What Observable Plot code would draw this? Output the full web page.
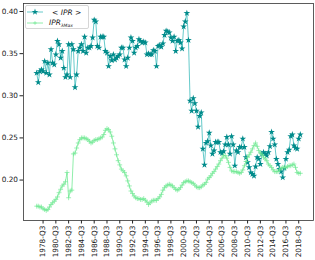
<!DOCTYPE html>
<html>
<head>
<meta charset="utf-8">
<script src="https://cdn.jsdelivr.net/npm/d3@7"></script>
<script src="https://cdn.jsdelivr.net/npm/@observablehq/plot@0.6"></script>
<style>
  html, body { margin: 0; padding: 0; background: white; }
  #wrap { position: relative; width: 315px; height: 260px; font-family: "DejaVu Sans", sans-serif; }
  #legend { position: absolute; left: 25px; top: 5px; width: 64px; height: 24px; box-sizing: border-box;
            border: 1px solid #d6d6d6; border-radius: 2px; background: rgba(255,255,255,0.85); font-size: 7.5px; color: #222; }
  .entry { position: absolute; left: 1px; height: 10px; display: flex; align-items: center; }
  .entry svg { display: block; }
  .lab { font-style: italic; margin-left: 9px; white-space: nowrap; }
  .lab sub { font-size: 4.5px; vertical-align: -1.5px; }
</style>
</head>
<body>
<div id="wrap"></div>
<script>
// Series 1: <IPR>, quarterly from 1977-Q3 (index 0) to 2018-Q4 (index 165)
const meanIPR = [
  0.327,0.316,0.329,0.331,0.329,0.341,0.327,0.339,0.325,0.355,
  0.339,0.337,0.349,0.365,0.361,0.345,0.353,0.333,0.322,0.325,
  0.361,0.322,0.361,0.355,0.310,0.325,0.353,0.357,0.361,0.353,
  0.370,0.351,0.357,0.357,0.359,0.369,0.390,0.388,0.359,0.357,
  0.370,0.370,0.370,0.353,0.351,0.335,0.347,0.342,0.349,0.343,
  0.345,0.347,0.349,0.357,0.357,0.343,0.335,0.345,0.357,0.369,
  0.365,0.351,0.357,0.359,0.367,0.365,0.363,0.364,0.363,0.349,
  0.350,0.349,0.349,0.354,0.353,0.335,0.359,0.360,0.358,0.362,
  0.372,0.377,0.376,0.375,0.369,0.365,0.370,0.353,0.365,0.366,
  0.363,0.356,0.382,0.388,0.398,0.366,0.294,0.282,0.297,0.291,
  0.282,0.263,0.276,0.280,0.237,0.218,0.244,0.246,0.256,0.241,
  0.231,0.235,0.245,0.245,0.245,0.233,0.232,0.234,0.242,0.251,
  0.242,0.231,0.252,0.242,0.217,0.235,0.233,0.239,0.239,0.249,
  0.239,0.227,0.221,0.215,0.209,0.207,0.205,0.216,0.227,0.225,
  0.219,0.231,0.233,0.231,0.229,0.233,0.240,0.257,0.249,0.242,
  0.225,0.219,0.213,0.210,0.203,0.214,0.225,0.233,0.236,0.252,
  0.254,0.241,0.238,0.237,0.249,0.254
];
// Series 2: IPR_lambdaMax, same quarters
const iprLambdaMax = [
  0.169,0.169,0.168,0.168,0.166,0.165,0.164,0.165,0.168,0.171,
  0.173,0.175,0.177,0.180,0.185,0.189,0.193,0.195,0.198,0.209,
  0.179,0.187,0.188,0.231,0.232,0.238,0.244,0.248,0.250,0.250,
  0.250,0.249,0.248,0.246,0.244,0.245,0.247,0.248,0.248,0.249,
  0.250,0.251,0.254,0.259,0.261,0.260,0.257,0.252,0.244,0.237,
  0.230,0.223,0.218,0.213,0.211,0.209,0.205,0.199,0.193,0.187,
  0.184,0.181,0.179,0.178,0.178,0.177,0.177,0.178,0.176,0.174,
  0.171,0.173,0.175,0.176,0.176,0.176,0.178,0.180,0.183,0.188,
  0.191,0.193,0.194,0.195,0.194,0.193,0.191,0.189,0.188,0.189,
  0.191,0.194,0.197,0.198,0.199,0.199,0.198,0.197,0.196,0.194,
  0.192,0.191,0.191,0.192,0.194,0.195,0.197,0.201,0.203,0.205,
  0.208,0.210,0.213,0.216,0.219,0.223,0.226,0.229,0.229,0.226,
  0.221,0.215,0.211,0.210,0.210,0.210,0.209,0.208,0.209,0.212,
  0.217,0.222,0.227,0.230,0.233,0.237,0.241,0.244,0.240,0.235,
  0.232,0.230,0.227,0.225,0.223,0.219,0.217,0.215,0.212,0.210,
  0.210,0.210,0.212,0.214,0.215,0.215,0.215,0.216,0.217,0.217,
  0.218,0.219,0.215,0.209,0.208,0.208
];
// Tick labels (every 8 quarters) and the quarter index they sit on
const tickIndex = [4,12,20,28,36,44,52,60,68,76,84,92,100,108,116,124,132,140,148,156,164];
const tickLabels = ["1978-Q3","1980-Q3","1982-Q3","1984-Q3","1986-Q3","1988-Q3","1990-Q3",
  "1992-Q3","1994-Q3","1996-Q3","1998-Q3","2000-Q3","2002-Q3","2004-Q3","2006-Q3",
  "2008-Q3","2010-Q3","2012-Q3","2014-Q3","2016-Q3","2018-Q3"];
const yTicks = [0.20, 0.25, 0.30, 0.35, 0.40];
const seriesNames = ["< IPR >", "IPR"];

const tealColor = "#008b8b";
const tealLine = "#3fbcbc";
const greenColor = "#74ea96";

const teal = meanIPR.map((v, i) => ({i, v}));
const green = iprLambdaMax.map((v, i) => ({i, v}));
const labelOf = new Map(tickIndex.map((t, k) => [t, tickLabels[k]]));

const chart = Plot.plot({
  width: 315,
  height: 260,
  marginLeft: 23,
  marginRight: 2,
  marginTop: 3,
  marginBottom: 40,
  style: {fontFamily: "DejaVu Sans", fontSize: "7.3px", background: "white", color: "#222"},
  x: {domain: [-8.25, 173.25], ticks: tickIndex, tickFormat: d => labelOf.get(d), tickRotate: -90,
      label: null, tickSize: 3.5, tickPadding: 1.5},
  y: {domain: [0.152, 0.4095], ticks: yTicks, tickFormat: d3.format(".2f"), label: null,
      tickSize: 3.5, tickPadding: 2},
  marks: [
    Plot.line(teal, {x: "i", y: "v", stroke: tealLine, strokeWidth: 0.8}),
    Plot.dot(teal, {x: "i", y: "v", symbol: "star", r: 2.1, fill: tealColor, stroke: "none"}),
    Plot.line(green, {x: "i", y: "v", stroke: greenColor, strokeWidth: 0.8}),
    Plot.dot(green, {x: "i", y: "v", symbol: "plus", r: 1.7, stroke: greenColor, strokeWidth: 0.7}),
    Plot.frame({stroke: "#333", strokeWidth: 0.8})
  ]
});
const wrap = document.getElementById("wrap");
wrap.appendChild(chart);

// legend overlay
const legend = document.createElement("div");
legend.id = "legend";
function sample(kind) {
  const s = kind === "star"
    ? `<line x1="0" y1="4" x2="16" y2="4" stroke="${tealLine}" stroke-width="0.8"/>` +
      `<path transform="translate(8,4)" d="${d3.symbol(d3.symbolStar, Math.PI * 2.1 * 2.1)()}" fill="${tealColor}"/>`
    : `<line x1="0" y1="4" x2="16" y2="4" stroke="${greenColor}" stroke-width="0.8"/>` +
      `<path d="M8,2.2V5.8M6.2,4H9.8" stroke="${greenColor}" stroke-width="0.7"/>`;
  return `<svg width="16" height="8">${s}</svg>`;
}
legend.innerHTML =
  `<div class="entry" style="top:1px">${sample("star")}<span class="lab">${seriesNames[0]}</span></div>` +
  `<div class="entry" style="top:12px">${sample("plus")}<span class="lab" style="margin-left:6px">${seriesNames[1]}<sub>λMax</sub></span></div>`;
wrap.appendChild(legend);
</script>
</body>
</html>
